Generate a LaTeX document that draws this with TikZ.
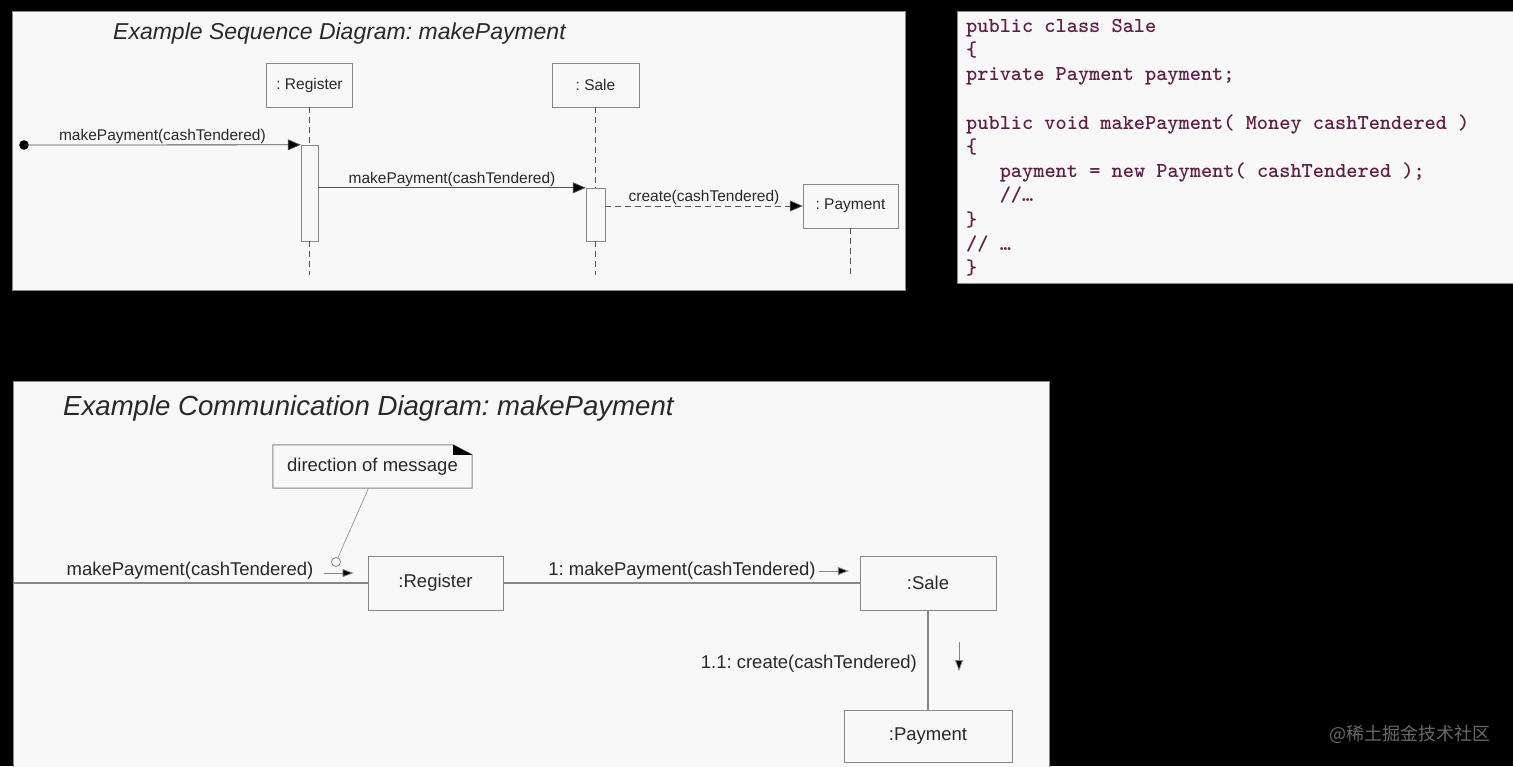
\documentclass[tikz,border=0pt]{standalone}
\usepackage{fontspec}
\setmainfont{Liberation Sans}
\newfontfamily\cjk{Noto Sans CJK SC}
\usetikzlibrary{arrows.meta,positioning}
\definecolor{codered}{RGB}{95,30,70}
\definecolor{paper}{RGB}{248,248,248}
\definecolor{edge}{RGB}{135,135,135}
\definecolor{ink}{RGB}{40,40,40}
\definecolor{mark}{RGB}{105,105,105}
\frenchspacing

\begin{document}
\begin{tikzpicture}[
    x=1pt, y=-1pt,
    panel/.style={draw=edge, fill=paper, line width=1pt},
    title/.style={
      text=ink,
      inner sep=0pt,
      font=\fontsize{23}{26}\selectfont\itshape
    },
    bigtitle/.style={title, font=\fontsize{27.6}{31}\selectfont\itshape},
    obj/.style={
      rectangle,
      draw=edge,
      fill=paper,
      text=ink,
      inner sep=0pt,
      minimum height=44pt,
      font=\fontsize{15.5}{18}\selectfont
    },
    act/.style={rectangle, draw=edge, fill=paper, inner sep=0pt, minimum width=17pt},
    box/.style={obj, line width=1pt, font=\fontsize{18.5}{21}\selectfont},
    lbl/.style={text=ink, inner sep=1pt, font=\fontsize{15.5}{18}\selectfont},
    clbl/.style={text=ink, inner sep=0pt, font=\fontsize{18.5}{21}\selectfont},
    life/.style={draw=ink!80, dashed, dash pattern=on 6pt off 4pt, line width=0.8pt},
    line/.style={draw=ink!80, line width=0.8pt, -{Triangle[length=13pt,width=11pt,fill=black]}},
    link/.style={draw=edge, line width=1.2pt},
    dir/.style={draw=edge, line width=0.8pt, -{Triangle[length=11pt,width=8pt,fill=black]}},
]
    \useasboundingbox (0,0) rectangle (1513,766);
    \fill [black] (0,0) rectangle (1513,766);
    \path [panel] (12,11) rectangle (905,290);
    \path [panel] (957,11) rectangle (1515,283);
    \path [panel] (13,381) rectangle (1049,768);

    \node [title, anchor=west] (seqtitle) at (113,34) {Example Sequence Diagram: makePayment};

    \node [obj, minimum width=86pt] (reg) at (309.5,85) {: Register};
    \node [obj, minimum width=87pt] (sale) at (595.5,85) {: Sale};
    \node [obj, minimum width=95pt] (pay) at (850.5,206) {: Payment};
    \node [act, minimum height=96pt] (regact) at (309.5,193) {};
    \node [act, minimum width=19pt, minimum height=53pt] (saleact) at (595.5,214.5) {};
    \coordinate (start) at (24,145);
    \coordinate (regend) at (309.5,275);
    \coordinate (saleend) at (595.5,275);
    \coordinate (payend) at (850.5,278);

    \path [life] (reg) -- (regact);
    \path [life] (regact) -- (regend);
    \path [life] (sale) -- (saleact);
    \path [life] (saleact) -- (saleend);
    \path [life] (pay) -- (payend);

    \fill [black] (start) circle (4.8pt);
    \path [line] (start) -- node [above, lbl] {makePayment(cashTendered)} (regact.north west);
    \path [line] (regact.east |- saleact.north west) -- node [above, lbl] {makePayment(cashTendered)} (saleact.north west);
    \path [line, dashed, dash pattern=on 6pt off 4pt] (saleact.east |- pay.west) -- node [above, lbl] {create(cashTendered)} (pay.west);

    \node [anchor=north west, inner sep=0pt, align=left, text=codered,
      font=\fontsize{21.3}{24.2}\selectfont\ttfamily\bfseries] (code) at (966,19) {%
      public class Sale\\
      \{\\
      private Payment payment;\\
      \\
      public void makePayment( Money cashTendered )\\
      \{\\
      \hspace*{33.6pt}payment = new Payment( cashTendered );\\
      \hspace*{33.6pt}//\ldots\\
      \}\\
      // \ldots\\
      \}};

    \node [bigtitle, anchor=west] (commtitle) at (63,408) {Example Communication Diagram: makePayment};

    \node [clbl, minimum width=199pt, minimum height=43pt] (note) at (372.5,466.5) {direction of message};
    \draw [edge, line width=1pt] (note.north west) -- ([xshift=-19pt]note.north east) -- ([yshift=-10pt]note.north east) -- (note.south east) -- (note.south west) -- cycle;
    \fill [black] ([xshift=-19pt]note.north east) -- ([xshift=-19pt,yshift=-10pt]note.north east) -- ([yshift=-10pt]note.north east) -- cycle;
    \node [circle, draw=edge, line width=0.8pt, minimum size=9pt, inner sep=0pt] (hole) at (336,562) {};
    \draw [edge, line width=0.6pt] ([xshift=-4pt]note.south) -- (hole);

    \node [box, minimum width=135pt, minimum height=54pt] (creg) at (435.5,583) {:Register};
    \node [box, minimum width=136pt, minimum height=54pt] (csale) at (928,583) {:Sale};
    \node [box, minimum width=168pt, minimum height=52pt] (cpay) at (928,736) {:Payment};
    \coordinate (inlet) at (13,583);

    \path [link] (inlet) -- (creg);
    \path [link] (creg) -- (csale);
    \path [link] (csale) -- (cpay);

    \node [clbl] (m0) at (190,571) {makePayment(cashTendered)};
    \path [dir] ([xshift=10pt,yshift=-2pt]m0.east) -- ([xshift=40pt,yshift=-2pt]m0.east);
    \node [clbl] (m1) at (682,571) {1: makePayment(cashTendered)};
    \path [dir] ([xshift=3pt]m1.east) -- ([xshift=33pt]m1.east);
    \node [clbl, anchor=east] (m2) at (917,664) {1.1: create(cashTendered)};
    \coordinate (dtop) at (959,642);
    \coordinate (dbot) at (959,671);
    \path [dir] (dtop) -- (dbot);

    \node [text=mark, inner sep=0pt, font=\fontsize{18}{20}\selectfont\cjk] (stamp) at (1410,734) {@稀土掘金技术社区};
\end{tikzpicture}
\end{document}
